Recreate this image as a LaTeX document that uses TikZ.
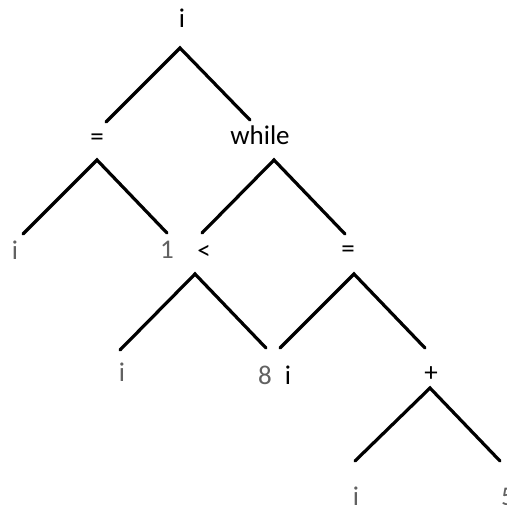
\documentclass[tikz,border=0pt]{standalone}
\usepackage{fontspec}
\setmainfont{Carlito}
\begin{document}
\begin{tikzpicture}[x=1pt,y=-1pt,
  op/.style={inner sep=0pt,font=\fontsize{27}{31}\selectfont,text=black},
  leaf/.style={inner sep=0pt,font=\fontsize{27}{31}\selectfont,text=black!62},
  edge/.style={line width=3.2pt,line cap=round}]
\useasboundingbox (0,0) rectangle (507,505);
% labels
\node[op] (r) at (182,18) {i};
\node[op] (a1) at (97,140) {=};
\node[op] (w) at (260,135) {while};
\node[leaf] (l1) at (15,250) {i};
\node[leaf] (l2) at (167,250) {1};
\node[op] (lt) at (204,252) {<};
\node[op] (a2) at (348,252) {=};
\node[leaf] (l3) at (122,372) {i};
\node[leaf] (l4) at (265,375) {8};
\node[op] (l5) at (288,375) {i};
\node[op] (p) at (431,374) {+};
\node[leaf] (l6) at (356,496) {i};
\node[leaf] (l7) at (508,497) {5};
% apex and end coordinates
\coordinate (rA) at (180,48);
\coordinate (rL) at (106,122);
\coordinate (rR) at (250,120);
\coordinate (a1A) at (97,160);
\coordinate (a1L) at (23,234);
\coordinate (a1R) at (167,233);
\coordinate (wA) at (274,160);
\coordinate (wL) at (202,233);
\coordinate (wR) at (345,234);
\coordinate (ltA) at (195,274);
\coordinate (ltL) at (120,350);
\coordinate (ltR) at (266,348);
\coordinate (a2A) at (354,274);
\coordinate (a2L) at (280,348);
\coordinate (a2R) at (425,348);
\coordinate (pA) at (430,388);
\coordinate (pL) at (355,461);
\coordinate (pR) at (500,461);
\draw[edge] (rL) -- (rA) -- (rR);
\draw[edge] (a1L) -- (a1A) -- (a1R);
\draw[edge] (wL) -- (wA) -- (wR);
\draw[edge] (ltL) -- (ltA) -- (ltR);
\draw[edge] (a2L) -- (a2A) -- (a2R);
\draw[edge] (pL) -- (pA) -- (pR);
\end{tikzpicture}
\end{document}
